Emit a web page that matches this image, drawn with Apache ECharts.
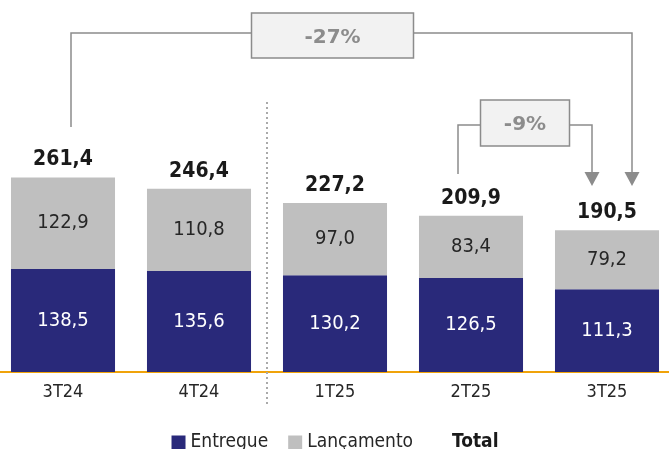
<!DOCTYPE html>
<html>
<head>
<meta charset="utf-8">
<script src="https://cdn.jsdelivr.net/npm/echarts@6/dist/echarts.min.js"></script>
<style>
  html, body {margin: 0; padding: 0; background: #fff; overflow: hidden}
  #chart {width: 680px; height: 449px; margin-left: -5px}
</style>
</head>
<body>
<div id="chart"></div>
<script>
var categories = ['3T24', '4T24', '1T25', '2T25', '3T25']
var entregue = [138.5, 135.6, 130.2, 126.5, 111.3]
var lancamento = [122.9, 110.8, 97.0, 83.4, 79.2]
var total = [261.4, 246.4, 227.2, 209.9, 190.5]
var variations = ['-27%', '-9%']

var FONT = "'DejaVu Sans Condensed', 'DejaVu Sans', sans-serif"
var GRAY = '#8c8c8c'
var fmt = function (v) { return v.toFixed(1).replace('.', ',') }

var chart = echarts.init(document.getElementById('chart'))

chart.setOption({
  animation: false,
  grid: {left: 0, right: 0, top: 0, bottom: 77},
  legend: {
    top: 428,
    left: 'center',
    itemWidth: 14,
    itemHeight: 14,
    itemGap: 20,
    textStyle: {fontFamily: FONT, fontSize: 19, color: '#262626'},
    data: [
      {name: 'Entregue', icon: 'rect'},
      {name: 'Lançamento', icon: 'rect'},
      {name: 'Total', icon: 'none', textStyle: {fontWeight: 'bold', color: '#1a1a1a'}}
    ]
  },
  xAxis: {
    type: 'category',
    data: categories,
    axisLine: {lineStyle: {color: '#f0a30a', width: 2}},
    axisTick: {show: false},
    axisLabel: {fontFamily: FONT, fontSize: 18, color: '#262626', margin: 11}
  },
  yAxis: {type: 'value', min: 0, max: 500, show: false, splitLine: {show: false}},
  series: [
    {
      name: 'Entregue', type: 'bar', stack: 'v', barWidth: '76.5%',
      data: entregue,
      itemStyle: {color: '#29297a'},
      label: {show: true, position: 'inside', fontFamily: FONT, fontSize: 20, color: '#ffffff',
        formatter: function (p) { return fmt(p.value) }}
    },
    {
      name: 'Lançamento', type: 'bar', stack: 'v', barWidth: '76.5%',
      data: lancamento,
      itemStyle: {color: '#bfbfbf'},
      label: {show: true, position: 'inside', fontFamily: FONT, fontSize: 20, color: '#262626',
        formatter: function (p) { return fmt(p.value) }}
    },
    {
      name: 'Total', type: 'bar', barWidth: '76.5%', barGap: '-100%',
      data: total,
      itemStyle: {color: 'rgba(0,0,0,0)'},
      label: {show: true, position: 'top', distance: 7, fontFamily: FONT, fontSize: 21,
        fontWeight: 'bold', color: '#1a1a1a',
        formatter: function (p) { return fmt(p.value) }}
    }
  ]
})

// annotations: separator and variation brackets, placed from category positions
var cx = categories.map(function (c) { return chart.convertToPixel({xAxisIndex: 0}, c) })

function arrow(x, tip) {
  return {type: 'polygon', z: 10, shape: {points: [[x - 7.5, tip - 14], [x + 7.5, tip - 14], [x, tip]]},
    style: {fill: GRAY}}
}
function box(x, y, w, h, txt) {
  return [
    {type: 'rect', z: 11, shape: {x: x - w / 2, y: y - h / 2, width: w, height: h},
      style: {fill: '#f2f2f2', stroke: GRAY, lineWidth: 1.5}},
    {type: 'text', z: 12, x: x, y: y + 2,
      style: {text: txt, fill: GRAY, font: "bold 20px 'DejaVu Sans'", align: 'center', verticalAlign: 'middle'}}
  ]
}

var l1 = cx[0] + 8, r1 = cx[4] + 25
var l2 = cx[3] - 13, r2 = cx[4] - 15
var sep = (cx[1] + cx[2]) / 2

var graphic = [
  {type: 'line', z: 5, shape: {x1: sep, y1: 102, x2: sep, y2: 405},
    style: {stroke: '#aaaaaa', lineWidth: 2, lineDash: [2, 3]}},
  {type: 'polyline', z: 10, shape: {points: [[l1, 127], [l1, 33], [r1, 33], [r1, 173]]},
    style: {stroke: GRAY, lineWidth: 1.5, fill: null}},
  arrow(r1, 186),
  {type: 'polyline', z: 10, shape: {points: [[l2, 174], [l2, 125], [r2, 125], [r2, 173]]},
    style: {stroke: GRAY, lineWidth: 1.5, fill: null}},
  arrow(r2, 186)
].concat(box((l1 + r1) / 2 - 19, 35.5, 162, 45, variations[0]))
 .concat(box((l2 + r2) / 2, 123, 89, 46, variations[1]))

chart.setOption({graphic: graphic})
</script>
</body>
</html>
